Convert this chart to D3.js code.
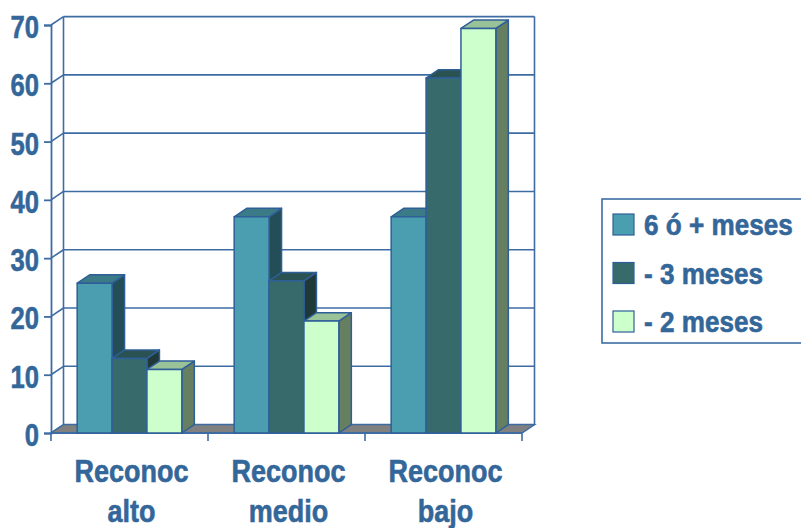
<!DOCTYPE html>
<html>
<head>
<meta charset="utf-8">
<script src="https://cdn.jsdelivr.net/npm/d3@7"></script>
<style>
  html, body { margin: 0; padding: 0; background: #ffffff; }
  svg { display: block; }
  text { font-family: "Liberation Sans", Arial, sans-serif; font-weight: bold; fill: #336699; stroke: #336699; stroke-width: 0.6px; }
</style>
</head>
<body>
<svg id="chart" width="801" height="528"></svg>
<script>
// Categories (two-line labels) and series
const categories = ["Reconoc alto", "Reconoc medio", "Reconoc bajo"];
const categoryLines = [["Reconoc", "alto"], ["Reconoc", "medio"], ["Reconoc", "bajo"]];
const seriesNames = ["6 ó + meses", "- 3 meses", "- 2 meses"];
const series6Plus = [25.7, 37.1, 37.1];
const series3 = [12.8, 26.1, 60.9];
const series2 = [10.9, 19.2, 69.4];
const yTicks = [0, 10, 20, 30, 40, 50, 60, 70];

const seriesValues = [series6Plus, series3, series2];

// Face colours per series: front, top, side
const faceColors = [
  { front: "#4A9EB0", top: "#3B7B88", side: "#234E57" },
  { front: "#376B6B", top: "#2B5252", side: "#1F3838" },
  { front: "#CCFFCC", top: "#99C299", side: "#667F60" }
];
const edge = "#2F5F98";
const gridColor = "#3D6CA3";

const svg = d3.select("#chart");

// Plot geometry (front plane) and depth offset
const x0 = 51, x1 = 522, yBase = 433, yTop = 25;
const dx = 12.5, dy = -8.4;

const y = d3.scaleLinear().domain([0, 70]).range([yBase, yTop]);
const xCat = d3.scaleBand().domain(categories).range([x0, x1]).paddingInner(0).paddingOuter(0);
const xSer = d3.scaleBand().domain(d3.range(seriesNames.length))
  .range([0, xCat.bandwidth()]).paddingInner(0).paddingOuter(0.75);

// Back wall gridlines
const walls = svg.append("g");
yTicks.forEach(t => {
  walls.append("line")
    .attr("x1", x0 + dx).attr("x2", x1 + dx)
    .attr("y1", y(t) + dy).attr("y2", y(t) + dy)
    .attr("stroke", gridColor).attr("stroke-width", 1.6);
  // side wall diagonal from front axis to the back wall
  walls.append("line")
    .attr("x1", x0).attr("y1", y(t))
    .attr("x2", x0 + dx).attr("y2", y(t) + dy)
    .attr("stroke", gridColor).attr("stroke-width", 1.6);
});
// wall verticals
walls.append("line").attr("x1", x0 + dx).attr("x2", x0 + dx)
  .attr("y1", y(70) + dy).attr("y2", y(0) + dy)
  .attr("stroke", gridColor).attr("stroke-width", 1.6);
walls.append("line").attr("x1", x1 + dx).attr("x2", x1 + dx)
  .attr("y1", y(70) + dy).attr("y2", y(0) + dy)
  .attr("stroke", gridColor).attr("stroke-width", 1.6);

// Floor
svg.append("path")
  .attr("d", `M${x0},${yBase}L${x1},${yBase}L${x1 + dx},${yBase + dy}L${x0 + dx},${yBase + dy}Z`)
  .attr("fill", "#808080").attr("stroke", gridColor).attr("stroke-width", 1.4);

// Front value axis
const yAxis = d3.axisLeft(y).tickValues(yTicks).tickSize(7).tickPadding(5).tickFormat(d3.format("d"));
const yAxisG = svg.append("g").attr("transform", `translate(${x0},0)`).call(yAxis);
yAxisG.select(".domain").attr("stroke", gridColor).attr("stroke-width", 1.8);
yAxisG.selectAll(".tick line").attr("stroke", gridColor).attr("stroke-width", 1.8);
const tickScale = 0.8;
yAxisG.selectAll(".tick text")
  .attr("font-size", 32).attr("fill", "#336699")
  .attr("dy", "0.36em")
  .attr("x", -12 / tickScale)
  .attr("transform", `translate(0,1) scale(${tickScale},1)`)
  .style("font-family", "'Liberation Sans', Arial, sans-serif")
  .style("font-weight", "bold");

// Category axis ticks along the front edge of the floor
const catBounds = categories.map(c => xCat(c)).concat([x1]);
const xAxisG = svg.append("g");
xAxisG.append("line").attr("x1", x0).attr("x2", x1).attr("y1", yBase).attr("y2", yBase)
  .attr("stroke", gridColor).attr("stroke-width", 1.8);
catBounds.forEach(bx => {
  xAxisG.append("line").attr("x1", bx).attr("x2", bx).attr("y1", yBase).attr("y2", yBase + 8)
    .attr("stroke", gridColor).attr("stroke-width", 1.6);
});

// 3D bars
const bars = svg.append("g");
categories.forEach((cat, ci) => {
  seriesValues.forEach((vals, si) => {
    const bx = xCat(cat) + xSer(si);
    const bw = xSer.bandwidth();
    const top = y(vals[ci]);
    const c = faceColors[si];
    const g = bars.append("g").attr("stroke", edge).attr("stroke-width", 1.5).attr("stroke-linejoin", "round");
    // right side
    g.append("path")
      .attr("d", `M${bx + bw},${yBase}L${bx + bw + dx},${yBase + dy}L${bx + bw + dx},${top + dy}L${bx + bw},${top}Z`)
      .attr("fill", c.side);
    // top
    g.append("path")
      .attr("d", `M${bx},${top}L${bx + dx},${top + dy}L${bx + bw + dx},${top + dy}L${bx + bw},${top}Z`)
      .attr("fill", c.top);
    // front
    g.append("rect")
      .attr("x", bx).attr("y", top).attr("width", bw).attr("height", yBase - top)
      .attr("fill", c.front);
  });
});

// Category labels
const catLabels = svg.append("g");
categories.forEach((cat, ci) => {
  const cx = xCat(cat) + xCat.bandwidth() / 2 + 2;
  categoryLines[ci].forEach((line, li) => {
    catLabels.append("text")
      .attr("transform", `translate(${cx},${482 + li * 40}) scale(0.87,1)`)
      .attr("text-anchor", "middle")
      .attr("font-size", 31)
      .text(line);
  });
});

// Legend
const legend = svg.append("g");
legend.append("rect")
  .attr("x", 602).attr("y", 199).attr("width", 220).attr("height", 144)
  .attr("fill", "#ffffff").attr("stroke", gridColor).attr("stroke-width", 1.6);
seriesNames.forEach((name, si) => {
  const ly = 214 + si * 48.5;
  legend.append("rect")
    .attr("x", 613).attr("y", ly).attr("width", 21).attr("height", 21)
    .attr("fill", faceColors[si].front).attr("stroke", edge).attr("stroke-width", 1.2);
  legend.append("text")
    .attr("transform", `translate(644,${ly + 21}) scale(0.9,1)`)
    .attr("font-size", 29)
    .text(name);
});
</script>
</body>
</html>
